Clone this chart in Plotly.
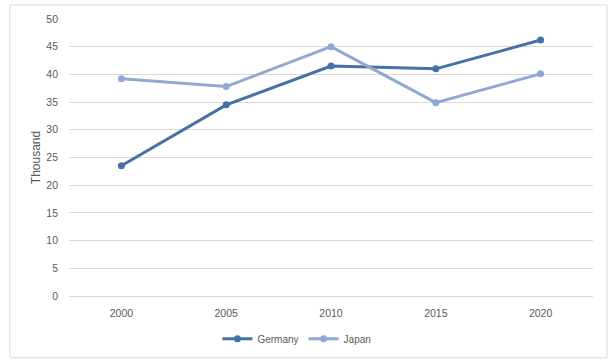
import plotly.graph_objects as go

years = ["2000", "2005", "2010", "2015", "2020"]
germany = [23.5, 34.5, 41.5, 41.0, 46.2]
japan = [39.2, 37.8, 45.0, 34.9, 40.1]
y_ticks = [0, 5, 10, 15, 20, 25, 30, 35, 40, 45, 50]

FONT = "Liberation Sans"
fig = go.Figure()
fig.add_trace(go.Scatter(x=years, y=germany, name="Germany", mode="lines+markers",
                         line=dict(color="#4571A6", width=3), marker=dict(size=7, color="#4571A6")))
fig.add_trace(go.Scatter(x=years, y=japan, name="Japan", mode="lines+markers",
                         line=dict(color="#91A8D2", width=3), marker=dict(size=7, color="#91A8D2")))

fig.update_layout(
    width=615, height=364,
    margin=dict(l=69, r=22, t=19, b=67),
    paper_bgcolor="white", plot_bgcolor="white",
    font=dict(family=FONT, size=10.5, color="#595959"),
    xaxis=dict(type="category", range=[-0.5, 4.5], showgrid=False, zeroline=False,
               showline=False, ticks="", ticklabelstandoff=9,
               tickfont=dict(size=10.5, color="#595959")),
    yaxis=dict(range=[0, 50], tickvals=y_ticks, showgrid=True, gridcolor="#D9D9D9",
               gridwidth=1, zeroline=True, zerolinecolor="#D9D9D9", zerolinewidth=1,
               showline=False, ticks="", ticklabelstandoff=10,
               title=dict(text="Thousand", font=dict(size=12, color="#595959"), standoff=3),
               tickfont=dict(size=10.5, color="#595959")),
    legend=dict(orientation="h", x=0.435, xanchor="center", y=-0.15, yanchor="middle",
                font=dict(size=10, color="#595959"), itemwidth=30, tracegroupgap=0),
    showlegend=True,
    shapes=[dict(type="rect", xref="paper", yref="paper", x0=-0.1126, x1=1.0267,
                 y0=-0.223, y1=1.0504, line=dict(color="#D9D9D9", width=1), layer="below")],
)
fig.write_html("out.html", config={"displayModeBar": False},
               post_script="document.body.style.margin='0';")
